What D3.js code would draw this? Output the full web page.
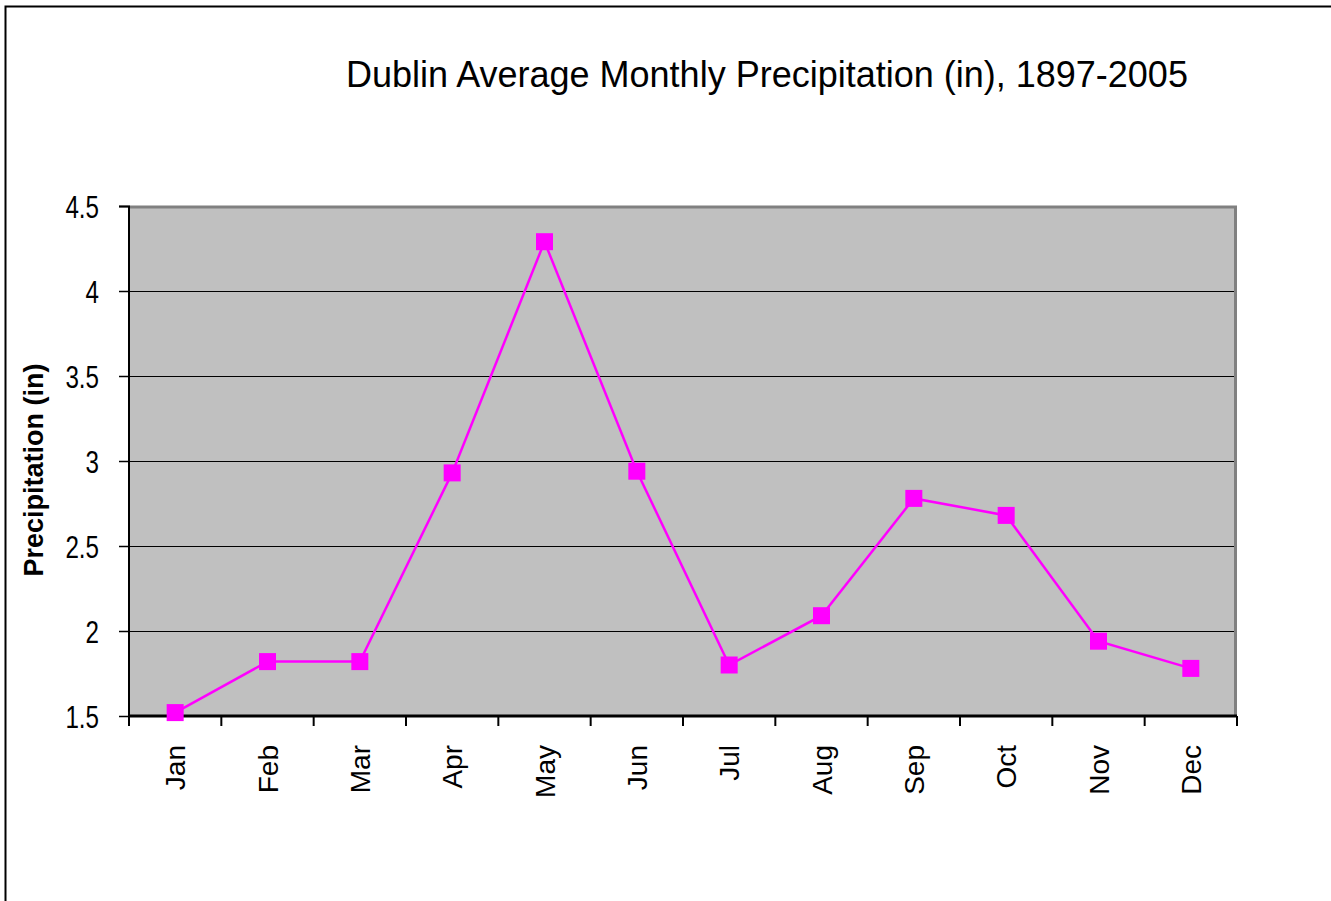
<!DOCTYPE html>
<html>
<head>
<meta charset="utf-8">
<script src="https://cdn.jsdelivr.net/npm/d3@7"></script>
<style>
  body { margin: 0; background: #fff; }
  svg { display: block; }
</style>
</head>
<body>
<div id="chart"></div>
<script>
const months = ["Jan", "Feb", "Mar", "Apr", "May", "Jun", "Jul", "Aug", "Sep", "Oct", "Nov", "Dec"];
const precip = [1.52, 1.82, 1.82, 2.93, 4.29, 2.94, 1.80, 2.09, 2.78, 2.68, 1.94, 1.78];
const yTicks = [1.5, 2, 2.5, 3, 3.5, 4, 4.5];

const W = 1331, H = 901;
const margin = { top: 206, right: 94, bottom: 185, left: 129 };
const width = W - margin.left - margin.right;
const height = H - margin.top - margin.bottom;
const font = "'Liberation Sans', Arial, sans-serif";

const svg = d3.select("#chart").append("svg")
    .attr("width", W)
    .attr("height", H);

// outer frame (only top and left edges show in the picture)
svg.append("rect")
    .attr("x", 5.5).attr("y", 6.5)
    .attr("width", W + 20).attr("height", H + 20)
    .attr("fill", "none")
    .attr("stroke", "#000")
    .attr("stroke-width", 2);

svg.append("text")
    .attr("x", 767).attr("y", 87)
    .attr("text-anchor", "middle")
    .style("font-family", font)
    .style("font-size", "36px")
    .text("Dublin Average Monthly Precipitation (in), 1897-2005");

const chart = svg.append("g")
    .attr("transform", `translate(${margin.left},${margin.top})`);

const x = d3.scaleBand().domain(months).range([0, width]);
const y = d3.scaleLinear().domain([1.5, 4.5]).range([height, 0]);

chart.append("rect")
    .attr("width", width).attr("height", height)
    .attr("fill", "#c0c0c0");

// gridlines
chart.selectAll(".grid")
    .data(yTicks.slice(1, -1))
    .enter().append("line")
    .attr("x1", 0).attr("x2", width)
    .attr("y1", d => Math.round(y(d)) + 0.5)
    .attr("y2", d => Math.round(y(d)) + 0.5)
    .attr("stroke", "#000");

// plot border: grey on top/right
chart.append("path")
    .attr("d", `M0,1 H${width - 1.5} V${height}`)
    .attr("fill", "none")
    .attr("stroke", "#808080")
    .attr("stroke-width", 3);

// y axis
const yAxis = chart.append("g")
    .call(d3.axisLeft(y).tickValues(yTicks).tickFormat(d3.format("")).tickSize(10));
yAxis.select(".domain").attr("stroke-width", 2).attr("d", `M-10,0.5H0V${height}`);
yAxis.selectAll(".tick line").attr("stroke-width", 1.5);
// narrow look: squeeze labels horizontally
yAxis.selectAll("text")
    .attr("x", 0)
    .attr("dy", "0.36em")
    .attr("transform", "translate(-30,0) scale(0.78,1)")
    .style("font-family", font)
    .style("font-size", "31px")
    .attr("fill", "#000");

// x axis: ticks on category boundaries
const xAxis = chart.append("g")
    .attr("transform", `translate(0,${height})`);
xAxis.append("line")
    .attr("x1", 0).attr("x2", width)
    .attr("y1", 0).attr("y2", 0)
    .attr("stroke", "#000").attr("stroke-width", 3);
const bounds = months.map(m => x(m)).concat([width]);
xAxis.selectAll(".xtick")
    .data(bounds)
    .enter().append("line")
    .attr("x1", d => d).attr("x2", d => d)
    .attr("y1", 0).attr("y2", 10)
    .attr("stroke", "#000").attr("stroke-width", 2);
xAxis.selectAll(".xlabel")
    .data(months)
    .enter().append("text")
    .attr("transform", d => `translate(${x(d) + x.bandwidth() / 2 + 10},29) rotate(-90)`)
    .attr("text-anchor", "end")
    .style("font-family", font)
    .style("font-size", "28px")
    .text(d => d);

// y axis title
svg.append("text")
    .attr("transform", "translate(43,470) rotate(-90)")
    .attr("text-anchor", "middle")
    .style("font-family", font)
    .style("font-weight", "bold")
    .style("font-size", "27px")
    .text("Precipitation (in)");

// series
const line = d3.line()
    .x((d, i) => x(months[i]) + x.bandwidth() / 2)
    .y(d => y(d));

chart.append("path")
    .datum(precip)
    .attr("d", line)
    .attr("fill", "none")
    .attr("stroke", "#ff00ff")
    .attr("stroke-width", 2.5);

chart.selectAll(".marker")
    .data(precip)
    .enter().append("rect")
    .attr("x", (d, i) => x(months[i]) + x.bandwidth() / 2 - 8.5)
    .attr("y", d => y(d) - 8.5)
    .attr("width", 17).attr("height", 17)
    .attr("fill", "#ff00ff");
</script>
</body>
</html>
